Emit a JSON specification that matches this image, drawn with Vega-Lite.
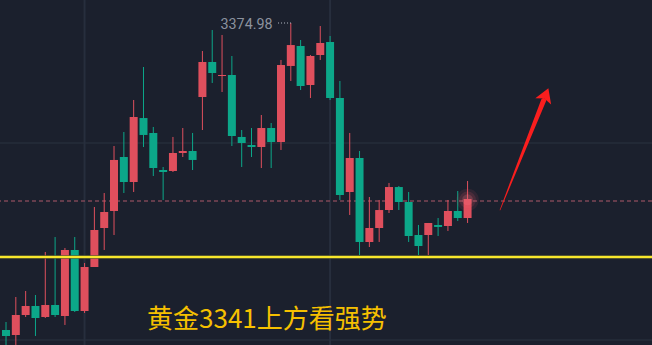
{
  "$schema": "https://vega.github.io/schema/vega-lite/v6.json",
  "width": 652,
  "height": 345,
  "padding": 0,
  "autosize": {"type": "fit", "contains": "padding"},
  "background": "#1b202d",
  "config": {"view": {"stroke": null}, "axis": {"disable": true}},
  "datasets": {
    "candles": [
      {"i": 0, "open": 3330.40, "close": 3329.53, "high": 3331.56, "low": 3327.50},
      {"i": 1, "open": 3329.67, "close": 3332.58, "high": 3335.19, "low": 3327.50},
      {"i": 2, "open": 3332.58, "close": 3333.88, "high": 3336.06, "low": 3332.29},
      {"i": 3, "open": 3333.88, "close": 3332.14, "high": 3335.48, "low": 3329.53},
      {"i": 4, "open": 3332.29, "close": 3334.03, "high": 3341.73, "low": 3332.14},
      {"i": 5, "open": 3334.03, "close": 3332.58, "high": 3343.90, "low": 3332.29},
      {"i": 6, "open": 3332.43, "close": 3342.02, "high": 3342.31, "low": 3331.13},
      {"i": 7, "open": 3342.02, "close": 3333.16, "high": 3343.90, "low": 3333.01},
      {"i": 8, "open": 3333.16, "close": 3339.55, "high": 3340.13, "low": 3332.87},
      {"i": 9, "open": 3339.55, "close": 3344.92, "high": 3348.26, "low": 3339.55},
      {"i": 10, "open": 3345.21, "close": 3347.53, "high": 3350.29, "low": 3342.02},
      {"i": 11, "open": 3347.68, "close": 3355.09, "high": 3357.12, "low": 3344.19},
      {"i": 12, "open": 3355.52, "close": 3351.89, "high": 3359.15, "low": 3350.29},
      {"i": 13, "open": 3351.89, "close": 3361.33, "high": 3363.80, "low": 3350.44},
      {"i": 14, "open": 3361.18, "close": 3358.72, "high": 3368.59, "low": 3356.97},
      {"i": 15, "open": 3359.01, "close": 3353.92, "high": 3359.88, "low": 3352.76},
      {"i": 16, "open": 3353.63, "close": 3353.34, "high": 3354.07, "low": 3349.28},
      {"i": 17, "open": 3353.49, "close": 3356.10, "high": 3358.43, "low": 3353.34},
      {"i": 18, "open": 3356.10, "close": 3356.39, "high": 3359.73, "low": 3355.52},
      {"i": 19, "open": 3356.39, "close": 3355.09, "high": 3359.01, "low": 3353.63},
      {"i": 20, "open": 3364.23, "close": 3369.32, "high": 3370.91, "low": 3359.44},
      {"i": 21, "open": 3369.32, "close": 3367.72, "high": 3373.96, "low": 3366.27},
      {"i": 22, "open": 3367.28, "close": 3367.43, "high": 3373.24, "low": 3364.96},
      {"i": 23, "open": 3367.43, "close": 3358.57, "high": 3370.19, "low": 3357.12},
      {"i": 24, "open": 3358.43, "close": 3357.55, "high": 3359.44, "low": 3354.07},
      {"i": 25, "open": 3357.26, "close": 3356.97, "high": 3359.73, "low": 3355.52},
      {"i": 26, "open": 3356.97, "close": 3359.73, "high": 3361.62, "low": 3353.92},
      {"i": 27, "open": 3359.73, "close": 3357.70, "high": 3360.46, "low": 3353.92},
      {"i": 28, "open": 3357.70, "close": 3368.88, "high": 3369.61, "low": 3356.54},
      {"i": 29, "open": 3368.74, "close": 3371.78, "high": 3374.98, "low": 3366.56},
      {"i": 30, "open": 3371.64, "close": 3365.83, "high": 3372.51, "low": 3365.25},
      {"i": 31, "open": 3365.98, "close": 3370.19, "high": 3370.33, "low": 3364.09},
      {"i": 32, "open": 3370.33, "close": 3372.08, "high": 3374.54, "low": 3369.61},
      {"i": 33, "open": 3372.22, "close": 3364.09, "high": 3373.09, "low": 3363.80},
      {"i": 34, "open": 3364.09, "close": 3350.00, "high": 3366.56, "low": 3349.28},
      {"i": 35, "open": 3350.44, "close": 3355.38, "high": 3359.01, "low": 3347.10},
      {"i": 36, "open": 3355.38, "close": 3343.18, "high": 3356.39, "low": 3341.29},
      {"i": 37, "open": 3343.18, "close": 3345.21, "high": 3349.71, "low": 3342.45},
      {"i": 38, "open": 3345.21, "close": 3347.82, "high": 3349.28, "low": 3343.18},
      {"i": 39, "open": 3347.82, "close": 3351.16, "high": 3351.75, "low": 3347.39},
      {"i": 40, "open": 3351.16, "close": 3348.99, "high": 3351.31, "low": 3347.82},
      {"i": 41, "open": 3348.99, "close": 3344.05, "high": 3350.44, "low": 3343.18},
      {"i": 42, "open": 3344.19, "close": 3342.60, "high": 3345.65, "low": 3341.29},
      {"i": 43, "open": 3344.19, "close": 3345.94, "high": 3345.94, "low": 3341.29},
      {"i": 44, "open": 3345.65, "close": 3345.36, "high": 3346.66, "low": 3344.05},
      {"i": 45, "open": 3345.50, "close": 3347.68, "high": 3349.28, "low": 3344.78},
      {"i": 46, "open": 3347.68, "close": 3346.66, "high": 3350.58, "low": 3346.23},
      {"i": 47, "open": 3346.66, "close": 3349.42, "high": 3352.04, "low": 3345.94}
    ],
    "gridPrice": [{"p": 3357.55}, {"p": 3328.95}],
    "gridBar": [{"i": 8}, {"i": 33}],
    "arrowShaft": [
      {"i": 50.3, "p": 3347.82, "t": 0},
      {"i": 54.74, "p": 3363.73, "t": 1}
    ],
    "arrowHead": [{"i": 54.91, "p": 3364.35}],
    "lastPrice": [{"i": 47, "p": 3349.3}],
    "highLabel": [{"i": 27.14, "iStart": 27.7, "i2": 29.05, "p": 3374.98, "label": "3374.98"}]
  },
  "encoding": {
    "x": {"type": "quantitative", "scale": {"domain": [-0.611, 65.78], "nice": false, "zero": false, "padding": 0}, "axis": null},
    "y": {"type": "quantitative", "scale": {"domain": [3328.22, 3378.32], "nice": false, "zero": false, "padding": 0}, "axis": null}
  },
  "layer": [
    {
      "data": {"name": "gridPrice"},
      "mark": {"type": "rule", "color": "#262c3a", "strokeWidth": 1.5, "clip": true},
      "encoding": {"y": {"field": "p", "type": "quantitative"}}
    },
    {
      "data": {"name": "gridBar"},
      "mark": {"type": "rule", "color": "#272e3d", "strokeWidth": 2, "clip": true},
      "encoding": {"x": {"field": "i", "type": "quantitative"}}
    },
    {
      "data": {"values": [{"p": 3349.13}]},
      "mark": {"type": "rule", "color": "#7d4555", "strokeWidth": 1.4, "strokeDash": [4, 3], "clip": true},
      "encoding": {"y": {"field": "p", "type": "quantitative"}}
    },
    {
      "data": {"name": "candles"},
      "mark": {"type": "rule", "strokeWidth": 1, "clip": true},
      "encoding": {
        "x": {"field": "i", "type": "quantitative"},
        "y": {"field": "low", "type": "quantitative"},
        "y2": {"field": "high"},
        "color": {"condition": {"test": "datum.close >= datum.open", "value": "#df4f5d"}, "value": "#0ca789"}
      }
    },
    {
      "data": {"name": "candles"},
      "mark": {"type": "bar", "width": 8, "clip": true},
      "encoding": {
        "x": {"field": "i", "type": "quantitative"},
        "y": {"field": "open", "type": "quantitative"},
        "y2": {"field": "close"},
        "color": {"condition": {"test": "datum.close >= datum.open", "value": "#df4f5d"}, "value": "#0ca789"}
      }
    },
    {
      "data": {"name": "lastPrice"},
      "mark": {"type": "point", "shape": "circle", "filled": true, "color": "#f05a6a", "size": 500, "opacity": 0.1, "clip": true},
      "encoding": {"x": {"field": "i", "type": "quantitative"}, "y": {"field": "p", "type": "quantitative"}}
    },
    {
      "data": {"name": "lastPrice"},
      "mark": {"type": "point", "shape": "circle", "filled": true, "color": "#f05a6a", "size": 280, "opacity": 0.14, "clip": true},
      "encoding": {"x": {"field": "i", "type": "quantitative"}, "y": {"field": "p", "type": "quantitative"}}
    },
    {
      "data": {"name": "lastPrice"},
      "mark": {"type": "point", "shape": "circle", "filled": true, "color": "#f57585", "size": 120, "opacity": 0.22, "clip": true},
      "encoding": {"x": {"field": "i", "type": "quantitative"}, "y": {"field": "p", "type": "quantitative"}}
    },
    {
      "data": {"values": [{"p": 3341}]},
      "mark": {"type": "rule", "color": "#6a6a2c", "strokeWidth": 3.5, "clip": true},
      "encoding": {"y": {"field": "p", "type": "quantitative"}}
    },
    {
      "data": {"values": [{"p": 3341}]},
      "mark": {"type": "rule", "color": "#f7e62c", "strokeWidth": 2, "clip": true},
      "encoding": {"y": {"field": "p", "type": "quantitative"}}
    },
    {
      "data": {"name": "arrowShaft"},
      "mark": {"type": "trail", "color": "#fa1e1e", "clip": true},
      "encoding": {
        "x": {"field": "i", "type": "quantitative"},
        "y": {"field": "p", "type": "quantitative"},
        "order": {"field": "t", "type": "quantitative"},
        "size": {"field": "t", "type": "quantitative", "scale": {"domain": [0, 1], "range": [0.6, 5]}, "legend": null}
      }
    },
    {
      "data": {"name": "arrowHead"},
      "mark": {"type": "point", "filled": true, "color": "#fa1e1e", "opacity": 1, "size": 289, "angle": 21.6, "shape": "M0,-1L1,0.65L0,0.3L-1,0.65Z", "clip": true},
      "encoding": {
        "x": {"field": "i", "type": "quantitative"},
        "y": {"field": "p", "type": "quantitative"}
      }
    },
    {
      "data": {"name": "highLabel"},
      "mark": {"type": "rule", "color": "#b4bac4", "strokeWidth": 1, "strokeDash": [1, 2], "clip": true},
      "encoding": {
        "x": {"field": "iStart", "type": "quantitative"},
        "x2": {"field": "i2"},
        "y": {"field": "p", "type": "quantitative"}
      }
    },
    {
      "data": {"name": "highLabel"},
      "mark": {"type": "text", "align": "right", "baseline": "middle", "font": "Roboto", "fontSize": 14.3, "dy": 1.5, "color": "#8c929e", "clip": true},
      "encoding": {
        "x": {"field": "i", "type": "quantitative"},
        "y": {"field": "p", "type": "quantitative"},
        "text": {"field": "label"}
      }
    },
    {
      "data": {"values": [{"i": 14.36, "p": 3331.92, "label": "黄金3341上方看强势"}]},
      "mark": {"type": "text", "align": "left", "baseline": "middle", "font": "Noto Sans CJK SC", "fontSize": 26, "color": "#f6c000", "clip": true},
      "encoding": {
        "x": {"field": "i", "type": "quantitative"},
        "y": {"field": "p", "type": "quantitative"},
        "text": {"field": "label"}
      }
    }
  ]
}
